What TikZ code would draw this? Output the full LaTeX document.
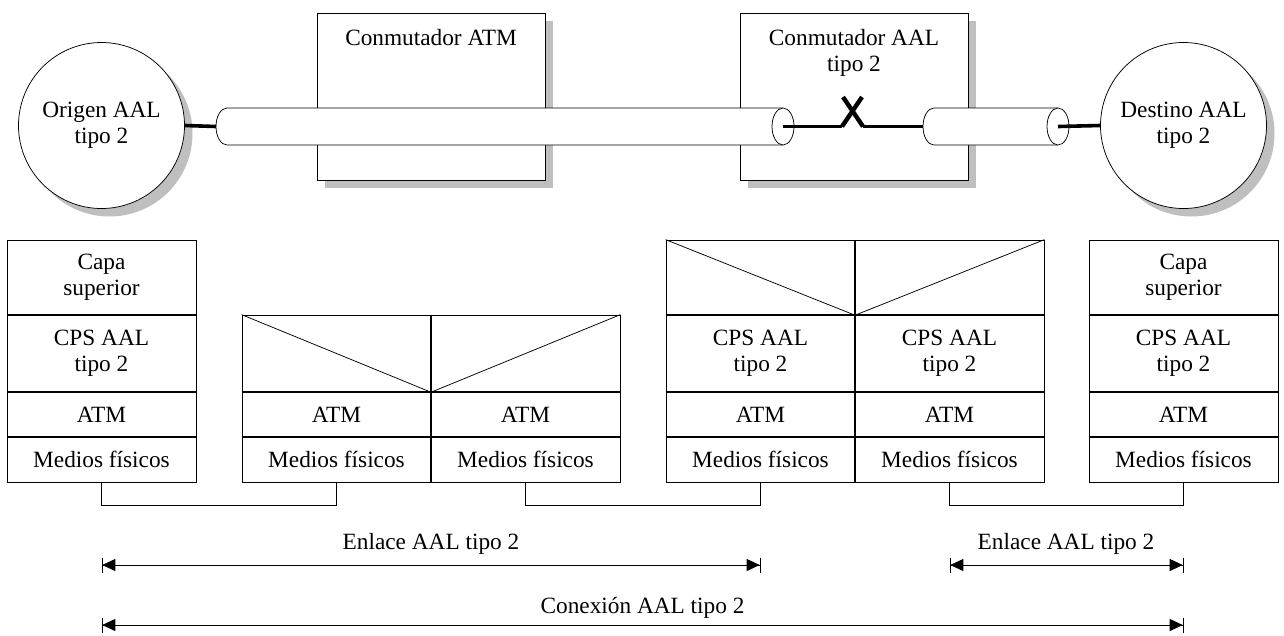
\documentclass[tikz,border=0pt]{standalone}
\usepackage{fontspec}
\setmainfont{Liberation Serif}
\usetikzlibrary{arrows.meta,shadows}

\begin{document}
\begin{tikzpicture}[x=1pt,y=-1pt,
  font=\fontsize{23.3}{26}\selectfont,
  thinline/.style={line width=0.75pt},
  shad/.style={general shadow={shadow xshift=8pt,shadow yshift=-8pt,fill=black!25}},
  endpoint/.style={circle,draw,thinline,fill=white,minimum size=166pt,inner sep=0pt,align=center,shad},
  switchbox/.style={rectangle,draw,thinline,fill=white,minimum width=228pt,minimum height=167pt,shad},
  cell/.style={rectangle,draw,thinline,minimum width=189pt,inner sep=0pt,align=center},
  rowsep/.style={line width=1.8pt},
  trunk/.style={line width=3.6pt},
  cross/.style={line width=4.4pt},
  cyl/.style={draw,thinline,fill=white},
  span/.style={thinline,
    {Bar[width=15pt,line width=0.8pt]Triangle[length=13pt,width=12pt,sep=0pt]}-{Triangle[length=13pt,width=12pt,sep=0pt]Bar[width=15pt,line width=0.8pt]}}
]
\useasboundingbox (0,0) rectangle (1284,635);

% ---------------- network view ----------------
\node[switchbox] (sw1) at (431,96.5) {};
\node[switchbox] (sw2) at (854,96.5) {};
\node[anchor=north,align=center,inner sep=0pt] (sw1t) at ([yshift=-16.5pt]sw1.north) {Conmutador ATM};
\node[anchor=north,align=center,inner sep=0pt] (sw2t) at ([yshift=-16.5pt]sw2.north) {Conmutador AAL\\tipo 2};

\node[endpoint] (orig) at (101.5,125.5) {Origen AAL\\tipo 2};
\node[endpoint] (dest) at (1183.5,125.5) {Destino AAL\\tipo 2};

% long trunk (cylinder)
\path[cyl] (783,108) -- (227,108) arc[start angle=90,end angle=270,x radius=11pt,y radius=18.5pt] -- (783,145);
\draw[cyl] (783,126.5) ellipse[x radius=11pt,y radius=18.5pt];
\coordinate (tAw) at (216,126.5);
\coordinate (tAe) at (783,126.5);

% short trunk (cylinder)
\path[cyl] (1058,108) -- (934,108) arc[start angle=90,end angle=270,x radius=11pt,y radius=18.5pt] -- (1058,145);
\draw[cyl] (1058,126.5) ellipse[x radius=11pt,y radius=18.5pt];
\coordinate (tBw) at (923,126.5);
\coordinate (tBe) at (1058,126.5);

% connections and switching point
\draw[trunk] (orig.east) -- (tAw);
\draw[trunk] (tAe) -- (842,126.5);
\draw[trunk] (863,126.5) -- (tBw);
\draw[cross] (842,126.5) -- (862,97);
\draw[cross] (843,97) -- (863,126.5);
\draw[trunk] (tBe) -- (dest.west);

% ---------------- protocol stacks ----------------
% stack 1
\node[cell,minimum height=75pt] (s1a) at (101.5,277.5) {Capa\\superior};
\node[cell,minimum height=77pt] (s1b) at (101.5,353.5) {CPS AAL\\tipo 2};
\node[cell,minimum height=45pt] (s1c) at (101.5,414.5) {ATM};
\node[cell,minimum height=45pt] (s1d) at (101.5,459.5) {Medios físicos};

% stack 2 (two halves)
\node[cell,minimum height=77pt] (s2a) at (336.5,353.5) {};
\node[cell,minimum height=45pt] (s2c) at (336.5,414.5) {ATM};
\node[cell,minimum height=45pt] (s2d) at (336.5,459.5) {Medios físicos};
\node[cell,minimum height=77pt] (s3a) at (525.5,353.5) {};
\node[cell,minimum height=45pt] (s3c) at (525.5,414.5) {ATM};
\node[cell,minimum height=45pt] (s3d) at (525.5,459.5) {Medios físicos};
\draw[thinline] (s2a.north west) -- (s2a.south east);
\draw[thinline] (s3a.south west) -- (s3a.north east);

% stack 3 (two halves)
\node[cell,minimum height=75pt] (s4a) at (760.5,277.5) {};
\node[cell,minimum height=77pt] (s4b) at (760.5,353.5) {CPS AAL\\tipo 2};
\node[cell,minimum height=45pt] (s4c) at (760.5,414.5) {ATM};
\node[cell,minimum height=45pt] (s4d) at (760.5,459.5) {Medios físicos};
\node[cell,minimum height=75pt] (s5a) at (949.5,277.5) {};
\node[cell,minimum height=77pt] (s5b) at (949.5,353.5) {CPS AAL\\tipo 2};
\node[cell,minimum height=45pt] (s5c) at (949.5,414.5) {ATM};
\node[cell,minimum height=45pt] (s5d) at (949.5,459.5) {Medios físicos};
\draw[thinline] (s4a.north west) -- (s4a.south east);
\draw[thinline] (s5a.south west) -- (s5a.north east);

% stack 4
\node[cell,minimum height=75pt] (s6a) at (1183.5,277.5) {Capa\\superior};
\node[cell,minimum height=77pt] (s6b) at (1183.5,353.5) {CPS AAL\\tipo 2};
\node[cell,minimum height=45pt] (s6c) at (1183.5,414.5) {ATM};
\node[cell,minimum height=45pt] (s6d) at (1183.5,459.5) {Medios físicos};

% heavier layer boundaries
\draw[rowsep] (s1a.south west) -- (s1a.south east);
\draw[rowsep] (s1b.south west) -- (s1b.south east);
\draw[rowsep] (s1c.south west) -- (s1c.south east);
\draw[rowsep] (s2a.south west) -- (s3a.south east);
\draw[rowsep] (s2c.south west) -- (s3c.south east);
\draw[rowsep] (s2a.north east) -- (s2d.south east);
\draw[rowsep] (s4a.south west) -- (s5a.south east);
\draw[rowsep] (s4b.south west) -- (s5b.south east);
\draw[rowsep] (s4c.south west) -- (s5c.south east);
\draw[rowsep] (s4a.north east) -- (s4d.south east);
\draw[rowsep] (s6a.south west) -- (s6a.south east);
\draw[rowsep] (s6b.south west) -- (s6b.south east);
\draw[rowsep] (s6c.south west) -- (s6c.south east);

% physical links
\draw[thinline] (s1d.south) -- ++(0,23) -| (s2d.south);
\draw[thinline] (s3d.south) -- ++(0,23) -| (s4d.south);
\draw[thinline] (s5d.south) -- ++(0,23) -| (s6d.south);

% extents
\coordinate (lv1) at (0,565);
\coordinate (lv2) at (0,625);
\draw[span] (s1d.south |- lv1) -- (s4d.south |- lv1);
\draw[span] (s5d.south |- lv1) -- (s6d.south |- lv1);
\draw[span] (s1d.south |- lv2) -- (s6d.south |- lv2);
\node[anchor=base] (l1) at (431,549) {Enlace AAL tipo 2};
\node[anchor=base] (l2) at (1066,549) {Enlace AAL tipo 2};
\node[anchor=base] (l3) at (642.5,613) {Conexión AAL tipo 2};
\end{tikzpicture}
\end{document}
